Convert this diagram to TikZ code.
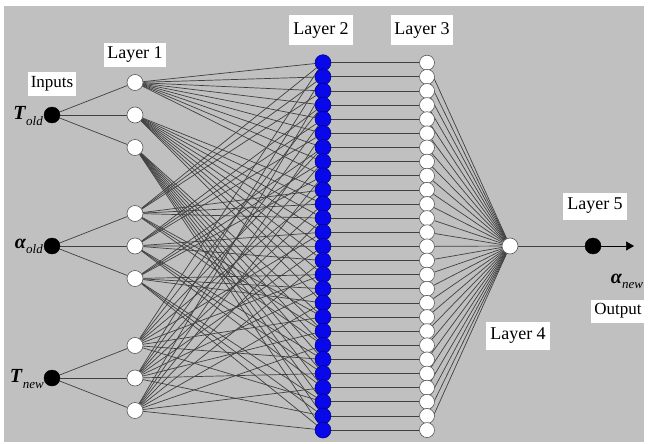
\documentclass[tikz,border=0pt]{standalone}
\usepackage{fontspec}
\setmainfont{Liberation Serif}
\usetikzlibrary{arrows.meta,backgrounds}
\definecolor{panel}{RGB}{192,192,192}
\definecolor{wire}{RGB}{64,64,64}
\definecolor{rulefill}{RGB}{8,8,235}
\newcommand{\subtxt}[1]{\raisebox{-0.55ex}{\fontsize{13}{13}\selectfont\itshape #1}}

\begin{document}
\begin{tikzpicture}[x=1pt,y=-1pt,>=Stealth,
 inp/.style={circle,fill=black,draw=black,minimum size=16pt,inner sep=0pt},
 mf/.style={circle,fill=white,draw=gray!70!black,line width=0.6pt,minimum size=16pt,inner sep=0pt},
 rulenode/.style={circle,fill=rulefill,draw=blue!45!black,line width=0.5pt,minimum size=16pt,inner sep=0pt},
 normnode/.style={circle,fill=white,draw=gray!70!black,line width=0.6pt,minimum size=15pt,inner sep=0pt},
 tag/.style={fill=white,inner xsep=3pt,inner ysep=0pt,font=\fontsize{18}{20}\selectfont},
 vartag/.style={anchor=east,inner sep=0pt,font=\fontsize{20}{22}\selectfont},
 wires/.style={draw=wire,line width=0.7pt}]
\useasboundingbox (0,0) rectangle (648,444);
\begin{scope}[on background layer]
 \fill[panel] (4,6) rectangle (644,442);
\end{scope}

% inputs
\node[inp] (Told) at (52,115) {};
\node[inp] (Aold) at (52,246) {};
\node[inp] (Tnew) at (52,378) {};
\node[vartag] (TnameA) at (43,116) {\textbf{\textit{T}}\subtxt{old}};
\node[vartag] (AnameA) at (43,246) {\textbf{\textit{α}}\subtxt{old}};
\node[vartag] (TnameB) at (44,379) {\textbf{\textit{T}}\subtxt{new}};

% layer 1 (membership functions)
\foreach \g/\yc in {0/115,1/246,2/378}
 \foreach \k in {1,2,3} {
  \pgfmathtruncatemacro{\n}{3*\g+\k}
  \node[mf] (l1-\n) at (135,{\yc+(\k-2)*32.5}) {};
 }

% layers 2 and 3
\foreach \j in {1,...,27} {
 \node[rulenode] (l2-\j) at (323,{62.7+(\j-1)*14.13}) {};
 \node[normnode] (l3-\j) at (427,{62.7+(\j-1)*14.13}) {};
}

% layers 4 and 5
\node[mf] (l4) at (510,246) {};
\node[inp] (l5) at (593,246) {};
\coordinate (outtip) at (634,246);

% connections
\begin{scope}[on background layer]
 \foreach \i/\src in {1/Told,2/Told,3/Told,4/Aold,5/Aold,6/Aold,7/Tnew,8/Tnew,9/Tnew}
  \draw[wires] (\src) -- (l1-\i);
 \foreach \j in {1,...,27} {
  \pgfmathtruncatemacro{\a}{floor((\j-1)/9)+1}
  \pgfmathtruncatemacro{\b}{mod(floor((\j-1)/3),3)+4}
  \pgfmathtruncatemacro{\c}{mod(\j-1,3)+7}
  \draw[wires] (l1-\a) -- (l2-\j);
  \draw[wires] (l1-\b) -- (l2-\j);
  \draw[wires] (l1-\c) -- (l2-\j);
  \draw[wires] (l2-\j) -- (l3-\j);
  \draw[wires] (l3-\j) -- (l4);
 }
 \draw[wires] (l4) -- (l5);
\end{scope}
\draw[draw=black,line width=0.7pt,-{Triangle[length=8pt,width=9pt]}] (l5) -- (outtip);

% labels
\node[tag,font=\fontsize{17}{19}\selectfont,minimum height=23pt] (inlab) at (52,84) {Inputs};
\node[tag,minimum height=24pt] (lab1) at (135,55) {Layer 1};
\node[tag,minimum height=30pt,inner xsep=4pt] (lab2) at (321,30) {Layer 2};
\node[tag,minimum height=30pt] (lab3) at (422,30) {Layer 3};
\node[tag,minimum height=27pt,inner xsep=4pt] (lab5) at (595,206) {Layer 5};
\node[tag,minimum height=28pt,inner xsep=4pt] (lab4) at (518,336) {Layer 4};
\node[vartag,anchor=center] (AnameB) at (627,281) {\textbf{\textit{α}}\subtxt{new}};
\node[tag,font=\fontsize{17}{19}\selectfont,minimum height=23pt] (outlab) at (618,311) {Output};
\end{tikzpicture}
\end{document}
